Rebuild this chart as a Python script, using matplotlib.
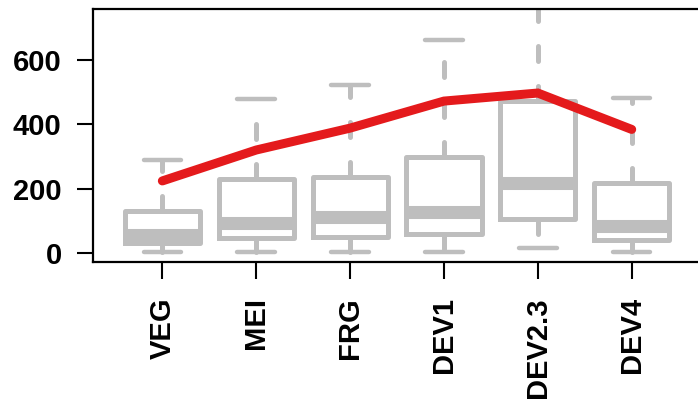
import matplotlib
matplotlib.use("Agg")
import matplotlib.pyplot as plt

# donnees
stades = ["VEG", "MEI", "FRG", "DEV1", "DEV2.3", "DEV4"]
q1 = [32, 47, 50, 58, 105, 40]
mediane = [55, 92, 111, 127, 217, 84]
q3 = [130, 230, 235, 298, 472, 217]
moust_bas = [2, 2, 2, 2, 15, 2]
moust_haut = [289, 478, 521, 662, 800, 483]
courbe = [224, 320, 388, 472, 497, 384]

gris = "#bebebe"
rouge = "#e41a1c"

plt.rcParams["font.family"] = ["Liberation Sans", "DejaVu Sans"]
plt.rcParams["font.weight"] = "bold"
plt.rcParams["lines.scale_dashes"] = False

fig = plt.figure(figsize=(6.98, 4.03), dpi=100)
ax = fig.add_axes([0.1328, 0.3506, 0.872, 0.627])

pos = list(range(1, len(stades) + 1))
stats = []
for i in range(len(stades)):
    stats.append(dict(med=mediane[i], q1=q1[i], q3=q3[i],
                      whislo=moust_bas[i], whishi=moust_haut[i], fliers=[]))

ax.bxp(stats, positions=pos, widths=0.8, capwidths=0.4, showfliers=False,
       boxprops=dict(color=gris, linewidth=3.6, solid_joinstyle="round"),
       whiskerprops=dict(color=gris, linewidth=3.6, linestyle=(0, (10.8, 18)),
                         dash_capstyle="round"),
       capprops=dict(color=gris, linewidth=3.2, solid_capstyle="round"),
       medianprops=dict(color=gris, linewidth=9.4, solid_capstyle="butt"))

ax.plot(pos, courbe, color=rouge, linewidth=6.5, solid_capstyle="round",
        solid_joinstyle="miter", zorder=5)

ax.set_xlim(0.258, 6.742)
ax.set_ylim(-27, 758)
ax.set_yticks([0, 200, 400, 600])
ax.set_xticks(pos)
ax.set_xticklabels(stades, rotation=90)

for s in ax.spines.values():
    s.set_linewidth(1.6)
ax.tick_params(axis="y", length=11.5, width=1.5, pad=10.8, labelsize=21)
ax.tick_params(axis="x", length=12.5, width=1.5, pad=13, labelsize=21)
for t in ax.get_xticklabels() + ax.get_yticklabels():
    t.set_fontweight("bold")

fig.savefig("out.png", dpi=100)
